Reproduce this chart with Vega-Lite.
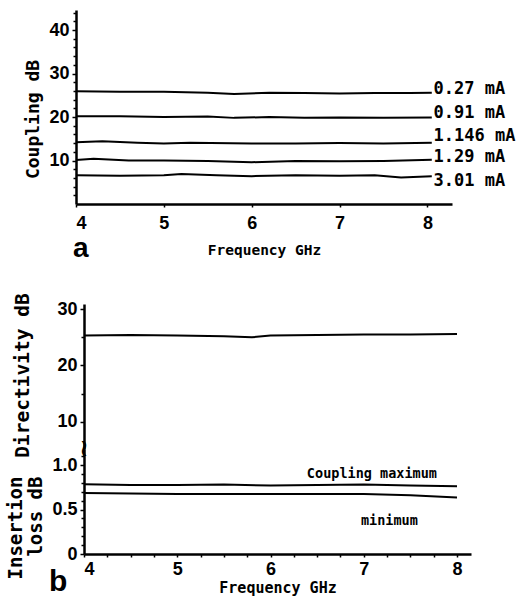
{
  "$schema": "https://vega.github.io/schema/vega-lite/v6.json",
  "background": "white",
  "padding": {"left": 6, "top": 10, "right": 0, "bottom": 0},
  "config": {
    "view": {"stroke": null},
    "axis": {
      "grid": false,
      "domainColor": "black",
      "domainWidth": 2.5,
      "tickColor": "black",
      "tickWidth": 1.5,
      "tickSize": 3,
      "labelColor": "black",
      "labelFont": "Liberation Sans",
      "labelFontWeight": "bold",
      "labelFontSize": 18,
      "titleColor": "black",
      "titleFont": "DejaVu Sans Mono",
      "titleFontWeight": "bold"
    }
  },
  "datasets": {
    "coupling": [
      {"series": "0.27 mA", "f": 4.0, "db": 25.9}, {"series": "0.27 mA", "f": 4.5, "db": 25.8}, {"series": "0.27 mA", "f": 5.0, "db": 25.8}, {"series": "0.27 mA", "f": 5.5, "db": 25.6}, {"series": "0.27 mA", "f": 5.8, "db": 25.3}, {"series": "0.27 mA", "f": 6.2, "db": 25.6}, {"series": "0.27 mA", "f": 6.6, "db": 25.5}, {"series": "0.27 mA", "f": 7.0, "db": 25.4}, {"series": "0.27 mA", "f": 7.4, "db": 25.5}, {"series": "0.27 mA", "f": 7.8, "db": 25.5}, {"series": "0.27 mA", "f": 8.05, "db": 25.6},
      {"series": "0.91 mA", "f": 4.0, "db": 20.2}, {"series": "0.91 mA", "f": 4.5, "db": 20.2}, {"series": "0.91 mA", "f": 5.0, "db": 20.0}, {"series": "0.91 mA", "f": 5.5, "db": 20.1}, {"series": "0.91 mA", "f": 5.8, "db": 19.8}, {"series": "0.91 mA", "f": 6.2, "db": 20.0}, {"series": "0.91 mA", "f": 6.6, "db": 19.8}, {"series": "0.91 mA", "f": 7.0, "db": 19.9}, {"series": "0.91 mA", "f": 7.5, "db": 19.8}, {"series": "0.91 mA", "f": 8.05, "db": 19.9},
      {"series": "1.146 mA", "f": 4.0, "db": 14.2}, {"series": "1.146 mA", "f": 4.3, "db": 14.4}, {"series": "1.146 mA", "f": 4.7, "db": 14.1}, {"series": "1.146 mA", "f": 5.0, "db": 13.9}, {"series": "1.146 mA", "f": 5.3, "db": 14.1}, {"series": "1.146 mA", "f": 6.0, "db": 13.9}, {"series": "1.146 mA", "f": 6.5, "db": 13.9}, {"series": "1.146 mA", "f": 7.0, "db": 14.0}, {"series": "1.146 mA", "f": 7.5, "db": 13.9}, {"series": "1.146 mA", "f": 8.05, "db": 14.1},
      {"series": "1.29 mA", "f": 4.0, "db": 10.1}, {"series": "1.29 mA", "f": 4.2, "db": 10.4}, {"series": "1.29 mA", "f": 4.6, "db": 10.0}, {"series": "1.29 mA", "f": 5.0, "db": 10.0}, {"series": "1.29 mA", "f": 5.5, "db": 9.9}, {"series": "1.29 mA", "f": 6.0, "db": 9.6}, {"series": "1.29 mA", "f": 6.5, "db": 9.9}, {"series": "1.29 mA", "f": 7.0, "db": 9.8}, {"series": "1.29 mA", "f": 7.5, "db": 9.9}, {"series": "1.29 mA", "f": 8.05, "db": 10.2},
      {"series": "3.01 mA", "f": 4.0, "db": 6.6}, {"series": "3.01 mA", "f": 4.5, "db": 6.5}, {"series": "3.01 mA", "f": 5.0, "db": 6.6}, {"series": "3.01 mA", "f": 5.2, "db": 6.9}, {"series": "3.01 mA", "f": 5.6, "db": 6.6}, {"series": "3.01 mA", "f": 6.0, "db": 6.4}, {"series": "3.01 mA", "f": 6.5, "db": 6.6}, {"series": "3.01 mA", "f": 7.0, "db": 6.5}, {"series": "3.01 mA", "f": 7.4, "db": 6.6}, {"series": "3.01 mA", "f": 7.7, "db": 6.1}, {"series": "3.01 mA", "f": 8.05, "db": 6.4}
    ],
    "couplingLabels": [
      {"label": "0.27 mA", "f": 8.07, "db": 26.4},
      {"label": "0.91 mA", "f": 8.07, "db": 20.9},
      {"label": "1.146 mA", "f": 8.07, "db": 15.6},
      {"label": "1.29 mA", "f": 8.07, "db": 10.9},
      {"label": "3.01 mA", "f": 8.07, "db": 5.3}
    ],
    "directivity": [
      {"f": 4.0, "db": 25.3}, {"f": 4.5, "db": 25.4}, {"f": 5.0, "db": 25.3}, {"f": 5.5, "db": 25.2}, {"f": 5.8, "db": 25.0}, {"f": 6.0, "db": 25.3}, {"f": 6.5, "db": 25.4}, {"f": 7.0, "db": 25.5}, {"f": 7.5, "db": 25.5}, {"f": 8.0, "db": 25.6}
    ],
    "insertion": [
      {"series": "maximum", "f": 4.0, "db": 0.785}, {"series": "maximum", "f": 4.5, "db": 0.775}, {"series": "maximum", "f": 5.0, "db": 0.775}, {"series": "maximum", "f": 5.5, "db": 0.78}, {"series": "maximum", "f": 6.0, "db": 0.77}, {"series": "maximum", "f": 6.5, "db": 0.775}, {"series": "maximum", "f": 7.0, "db": 0.78}, {"series": "maximum", "f": 7.5, "db": 0.77}, {"series": "maximum", "f": 8.0, "db": 0.76},
      {"series": "minimum", "f": 4.0, "db": 0.685}, {"series": "minimum", "f": 4.5, "db": 0.68}, {"series": "minimum", "f": 5.0, "db": 0.675}, {"series": "minimum", "f": 5.5, "db": 0.675}, {"series": "minimum", "f": 6.0, "db": 0.675}, {"series": "minimum", "f": 6.5, "db": 0.675}, {"series": "minimum", "f": 7.0, "db": 0.675}, {"series": "minimum", "f": 7.5, "db": 0.66}, {"series": "minimum", "f": 8.0, "db": 0.635}
    ],
    "insertionLabels": [
      {"label": "Coupling maximum", "f": 6.39, "db": 0.9},
      {"label": "minimum", "f": 6.97, "db": 0.37}
    ],
    "breakMark": [
      {"f": 4.0, "db": 5.2, "sym": "≀"}
    ]
  },
  "spacing": 29,
  "vconcat": [
    {
      "width": 376,
      "height": 194,
      "title": {"text": "a", "orient": "bottom", "anchor": "start", "frame": "group", "font": "Liberation Sans", "fontSize": 28, "fontWeight": "bold", "color": "black", "offset": 0, "dx": -3, "dy": -22},
      "resolve": {"axis": {"y": "independent"}},
      "layer": [
        {
          "data": {"name": "coupling"},
          "mark": {"type": "line", "color": "black", "strokeWidth": 2},
          "encoding": {
            "x": {"field": "f", "type": "quantitative", "scale": {"domain": [4, 8.28], "nice": false, "zero": false},
              "axis": {"values": [4, 5, 6, 7, 8], "format": "d", "labelPadding": 7, "title": "Frequency GHz", "titleFontSize": 14.5, "titlePadding": 11}},
            "y": {"field": "db", "type": "quantitative", "scale": {"domain": [0, 44.6], "nice": false, "zero": false},
              "axis": {"orient": "left", "values": [10, 20, 30, 40], "format": "d", "tickSize": 4, "labelPadding": 3, "title": "Coupling dB", "titleFontSize": 18, "titleAngle": 270, "titleBaseline": "middle", "titleAlign": "center", "titleX": -43, "titleY": 109}},
            "detail": {"field": "series"}
          }
        },
        {
          "data": {"name": "couplingLabels"},
          "mark": {"type": "text", "align": "left", "baseline": "middle", "font": "DejaVu Sans Mono", "fontWeight": "bold", "fontSize": 17, "color": "black"},
          "encoding": {
            "x": {"field": "f", "type": "quantitative"},
            "y": {"field": "db", "type": "quantitative",
              "axis": {"orient": "left", "values": [2, 4, 6, 8, 12, 14, 16, 18, 22, 24, 26, 28, 32, 34, 36, 38, 42, 44], "labels": false, "domain": false, "title": null, "tickSize": 3}},
            "text": {"field": "label"}
          }
        }
      ]
    },
    {
      "spacing": 0,
      "bounds": "flush",
      "vconcat": [
        {
          "width": 395,
          "height": 145,
          "resolve": {"axis": {"y": "independent"}},
          "layer": [
            {
              "data": {"name": "directivity"},
              "mark": {"type": "line", "color": "black", "strokeWidth": 2},
              "encoding": {
                "x": {"field": "f", "type": "quantitative", "scale": {"domain": [4, 8.15], "range": [8, 395], "nice": false, "zero": false}, "axis": null},
                "y": {"field": "db", "type": "quantitative", "scale": {"domain": [5.2, 30.9], "nice": false, "zero": false},
                  "axis": {"orient": "left", "offset": -8, "values": [10, 20, 30], "format": "d", "tickSize": 4, "labelPadding": 3, "title": "Directivity dB", "titleFontSize": 19.5, "titleAngle": 270, "titleBaseline": "middle", "titleAlign": "center", "titleX": -62, "titleY": 71}}
              }
            },
            {
              "data": {"name": "breakMark"},
              "mark": {"type": "text", "font": "DejaVu Sans", "fontWeight": "bold", "fontSize": 24, "color": "black", "baseline": "middle", "align": "center"},
              "encoding": {
                "x": {"field": "f", "type": "quantitative"},
                "y": {"field": "db", "type": "quantitative",
                  "axis": {"orient": "left", "offset": -8, "values": [15, 25], "labels": false, "domain": false, "title": null, "tickSize": 3}},
                "text": {"field": "sym"}
              }
            }
          ]
        },
        {
          "width": 395,
          "height": 105,
          "title": {"text": "b", "orient": "bottom", "anchor": "start", "frame": "group", "font": "Liberation Sans", "fontSize": 30, "fontWeight": "bold", "color": "black", "offset": 0, "dx": -27, "dy": -28},
          "resolve": {"axis": {"x": "independent", "y": "independent"}},
          "layer": [
            {
              "data": {"name": "insertion"},
              "mark": {"type": "line", "color": "black", "strokeWidth": 2},
              "encoding": {
                "x": {"field": "f", "type": "quantitative", "scale": {"domain": [4, 8.15], "range": [8, 395], "nice": false, "zero": false},
                  "axis": {"orient": "bottom", "values": [4, 5, 6, 7, 8], "format": "d", "labelPadding": 3, "title": "Frequency GHz", "titleFontSize": 15, "titlePadding": 2}},
                "y": {"field": "db", "type": "quantitative", "scale": {"domain": [0, 1.18], "nice": false, "zero": false},
                  "axis": {"orient": "left", "offset": -8, "values": [0, 0.5, 1], "labelExpr": "datum.value === 0 ? '0' : format(datum.value, '.1f')", "tickSize": 4, "labelPadding": 3, "title": ["Insertion", "loss dB"], "titleFontSize": 19, "titleLineHeight": 20, "titleAngle": 270, "titleBaseline": "middle", "titleAlign": "right", "titleX": -69, "titleY": 27}},
                "detail": {"field": "series"}
              }
            },
            {
              "data": {"name": "insertionLabels"},
              "mark": {"type": "text", "align": "left", "baseline": "middle", "font": "DejaVu Sans Mono", "fontWeight": "bold", "fontSize": 13.5, "color": "black"},
              "encoding": {
                "x": {"field": "f", "type": "quantitative",
                  "axis": {"orient": "bottom", "values": [4.25, 4.5, 4.75, 5.25, 5.5, 5.75, 6.25, 6.5, 6.75, 7.25, 7.5, 7.75], "labels": false, "domain": false, "title": null, "tickSize": 3}},
                "y": {"field": "db", "type": "quantitative",
                  "axis": {"orient": "left", "offset": -8, "values": [0.1, 0.2, 0.3, 0.4, 0.6, 0.7, 0.8, 0.9, 1.1], "labels": false, "domain": false, "title": null, "tickSize": 3}},
                "text": {"field": "label"}
              }
            }
          ]
        }
      ]
    }
  ]
}
